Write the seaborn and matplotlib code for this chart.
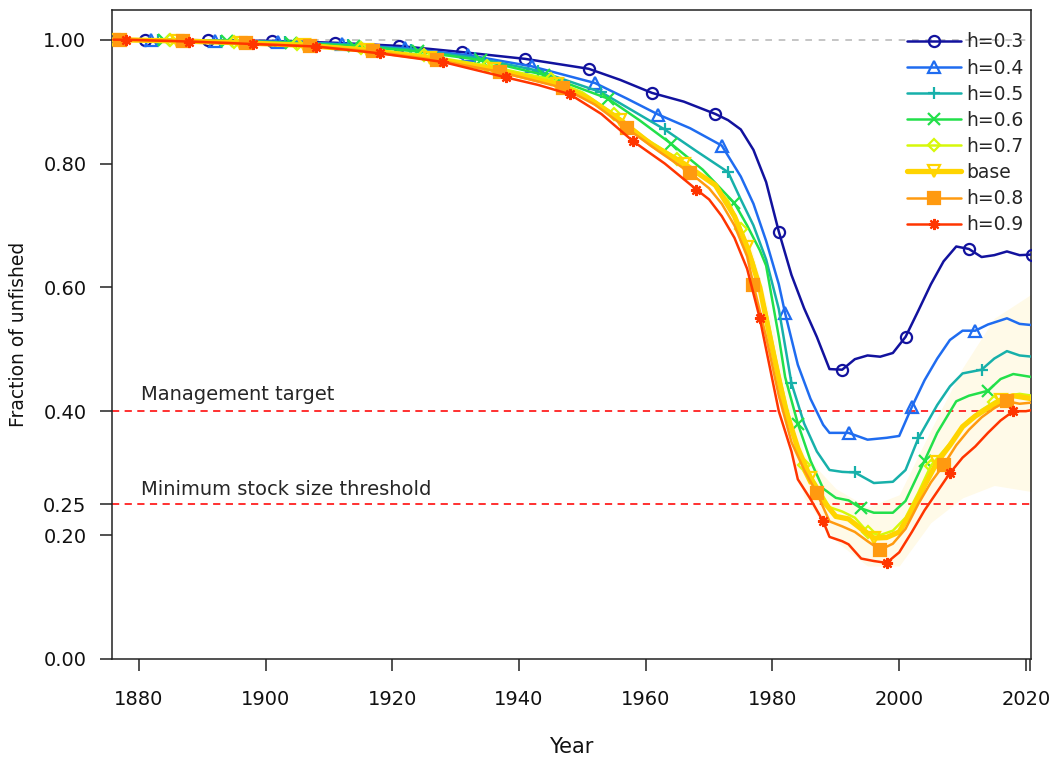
import matplotlib
matplotlib.use("Agg")
import matplotlib.pyplot as plt
import seaborn as sns

# (year, fraction of unfished) per model run
yrs_h03 = [1876, 1881, 1891, 1901, 1911, 1921, 1931, 1941, 1951, 1956, 1961, 1966, 1971, 1973, 1975, 1977,
           1979, 1981, 1983, 1985, 1987, 1989, 1991, 1993, 1995, 1997, 1999, 2001, 2003, 2005, 2007,
           2009, 2011, 2013, 2015, 2017, 2019, 2021]
val_h03 = [1.000, 1.000, 0.999, 0.998, 0.995, 0.990, 0.980, 0.969, 0.953, 0.935, 0.914, 0.900, 0.880, 0.870, 0.855, 0.822,
           0.770, 0.690, 0.620, 0.566, 0.520, 0.468, 0.467, 0.484, 0.490, 0.488, 0.494, 0.520, 0.562, 0.605, 0.642,
           0.666, 0.662, 0.649, 0.652, 0.658, 0.652, 0.653]

yrs_h04 = [1876, 1882, 1892, 1902, 1912, 1922, 1932, 1942, 1952, 1957, 1962, 1967, 1972, 1975, 1977, 1979,
           1981, 1982, 1984, 1986, 1988, 1989, 1992, 1995, 1998, 2000, 2002, 2004, 2006, 2008, 2010,
           2012, 2014, 2017, 2019, 2021]
val_h04 = [1.000, 1.000, 0.998, 0.997, 0.993, 0.986, 0.975, 0.957, 0.930, 0.905, 0.879, 0.857, 0.829, 0.779, 0.735, 0.675,
           0.605, 0.558, 0.475, 0.420, 0.378, 0.365, 0.365, 0.354, 0.357, 0.360, 0.407, 0.450, 0.485, 0.515, 0.530,
           0.530, 0.540, 0.550, 0.541, 0.539]

yrs_h05 = [1876, 1883, 1893, 1903, 1913, 1923, 1933, 1943, 1953, 1958, 1963, 1968, 1973, 1975, 1977, 1979,
           1981, 1983, 1985, 1987, 1989, 1991, 1993, 1996, 1999, 2001, 2003, 2006, 2008, 2010, 2013,
           2015, 2017, 2019, 2021]
val_h05 = [1.000, 1.000, 0.998, 0.996, 0.992, 0.984, 0.971, 0.950, 0.915, 0.885, 0.855, 0.820, 0.786, 0.742, 0.700, 0.645,
           0.565, 0.445, 0.380, 0.335, 0.305, 0.302, 0.301, 0.284, 0.286, 0.305, 0.356, 0.410, 0.440, 0.461, 0.467,
           0.485, 0.497, 0.490, 0.488]

yrs_h06 = [1876, 1884, 1894, 1904, 1914, 1924, 1934, 1944, 1954, 1959, 1964, 1969, 1974, 1976, 1978, 1979,
           1981, 1982, 1984, 1986, 1988, 1990, 1992, 1994, 1996, 1999, 2001, 2004, 2006, 2009, 2011,
           2014, 2016, 2018, 2021]
val_h06 = [1.000, 1.000, 0.998, 0.995, 0.990, 0.981, 0.967, 0.943, 0.905, 0.870, 0.832, 0.790, 0.736, 0.700, 0.660, 0.635,
           0.520, 0.455, 0.380, 0.320, 0.275, 0.260, 0.256, 0.243, 0.236, 0.236, 0.255, 0.320, 0.365, 0.416, 0.425,
           0.433, 0.452, 0.460, 0.455]

yrs_h07 = [1876, 1885, 1895, 1905, 1915, 1925, 1935, 1945, 1950, 1955, 1960, 1965, 1970, 1973, 1975, 1977,
           1979, 1981, 1983, 1985, 1987, 1989, 1991, 1993, 1995, 1997, 1999, 2001, 2003, 2005, 2007,
           2009, 2011, 2013, 2015, 2017, 2019, 2021]
val_h07 = [1.000, 0.999, 0.996, 0.993, 0.986, 0.975, 0.958, 0.936, 0.915, 0.880, 0.840, 0.808, 0.773, 0.740, 0.695, 0.640,
           0.560, 0.460, 0.375, 0.313, 0.280, 0.245, 0.238, 0.228, 0.205, 0.200, 0.207, 0.228, 0.268, 0.312, 0.336,
           0.360, 0.386, 0.402, 0.415, 0.425, 0.428, 0.425]

yrs_base = [1876, 1886, 1896, 1906, 1916, 1926, 1936, 1946, 1951, 1956, 1961, 1966, 1971, 1974, 1976, 1978,
            1980, 1982, 1984, 1986, 1988, 1990, 1992, 1994, 1996, 1998, 2000, 2002, 2004, 2006, 2008,
            2010, 2012, 2014, 2016, 2018, 2021]
val_base = [1.000, 0.998, 0.995, 0.991, 0.983, 0.970, 0.952, 0.928, 0.905, 0.870, 0.830, 0.800, 0.765, 0.715, 0.665, 0.600,
            0.500, 0.405, 0.340, 0.292, 0.255, 0.230, 0.226, 0.210, 0.195, 0.196, 0.205, 0.240, 0.280, 0.318, 0.345,
            0.375, 0.392, 0.405, 0.418, 0.425, 0.420]

yrs_h08 = [1876, 1877, 1887, 1897, 1907, 1917, 1927, 1937, 1947, 1952, 1957, 1962, 1967, 1970, 1972, 1974,
           1976, 1977, 1979, 1981, 1983, 1985, 1987, 1989, 1991, 1993, 1995, 1997, 1999, 2001, 2003,
           2005, 2007, 2009, 2011, 2013, 2015, 2017, 2019, 2021]
val_h08 = [1.000, 1.000, 0.998, 0.994, 0.990, 0.981, 0.967, 0.948, 0.922, 0.895, 0.857, 0.820, 0.785, 0.760, 0.735, 0.700,
           0.650, 0.604, 0.520, 0.425, 0.350, 0.305, 0.268, 0.222, 0.214, 0.205, 0.190, 0.176, 0.186, 0.210, 0.250,
           0.285, 0.313, 0.345, 0.370, 0.390, 0.405, 0.416, 0.412, 0.414]

yrs_h09 = [1876, 1878, 1888, 1898, 1908, 1918, 1928, 1938, 1943, 1948, 1953, 1958, 1963, 1968, 1970, 1972,
           1974, 1976, 1978, 1980, 1981, 1983, 1984, 1986, 1988, 1989, 1991, 1992, 1994, 1996, 1998,
           2000, 2002, 2004, 2006, 2008, 2010, 2012, 2014, 2016, 2018, 2020, 2021]
val_h09 = [1.000, 1.000, 0.997, 0.993, 0.989, 0.978, 0.964, 0.939, 0.927, 0.912, 0.880, 0.836, 0.800, 0.758, 0.742, 0.715,
           0.680, 0.630, 0.550, 0.450, 0.400, 0.335, 0.290, 0.258, 0.222, 0.197, 0.190, 0.185, 0.162, 0.158, 0.155,
           0.172, 0.205, 0.240, 0.270, 0.300, 0.325, 0.343, 0.365, 0.385, 0.400, 0.400, 0.402]

# faint uncertainty band around the base run
band_yrs = [1976, 1980, 1985, 1990, 1995, 2000, 2005, 2010, 2015, 2021]
band_lo = [0.640, 0.460, 0.260, 0.190, 0.150, 0.150, 0.220, 0.260, 0.280, 0.270]
band_hi = [0.690, 0.540, 0.330, 0.275, 0.245, 0.265, 0.370, 0.470, 0.550, 0.590]

labels = ["h=0.3", "h=0.4", "h=0.5", "h=0.6", "h=0.7", "base", "h=0.8", "h=0.9"]
colors = ["#12129e", "#1f6cf0", "#17b0aa", "#22e04a", "#d6f80a", "#ffd400", "#ff9a10", "#ff3500"]
markers = ["o", "^", "+", "x", "D", "v", "s", (8, 2, 0)]

series = [(yrs_h03, val_h03), (yrs_h04, val_h04), (yrs_h05, val_h05), (yrs_h06, val_h06),
          (yrs_h07, val_h07), (yrs_base, val_base), (yrs_h08, val_h08), (yrs_h09, val_h09)]

sns.set_style("ticks")
plt.rcParams['font.family'] = ['DejaVu Sans']

fig = plt.figure(figsize=(10.58, 7.67), dpi=100)
ax = fig.add_axes([0.106, 0.141, 0.8685, 0.846])

ax.fill_between(band_yrs, band_lo, band_hi, color="#ffe680", alpha=0.18, linewidth=0, zorder=1)

ax.axhline(1.0, color="#bbbbbb", ls=(0, (4, 4)), lw=1.2, zorder=1)
ax.axhline(0.4, color="#ff2020", ls=(0, (4, 3)), lw=1.3, zorder=1)
ax.axhline(0.25, color="#ff2020", ls=(0, (4, 3)), lw=1.3, zorder=1)

for i, (yrs, vals) in enumerate(series):
    # one marker every 10 years, shifted one year per run
    first = 1881 + i
    idx = [k for k, y in enumerate(yrs) if (y - first) % 10 == 0]
    filled = markers[i] == "s"
    lw = 3.8 if labels[i] == "base" else 1.8
    sns.lineplot(x=yrs, y=vals, ax=ax, color=colors[i], lw=lw, label=labels[i],
                 marker=markers[i], markevery=idx, markersize=8 if markers[i] != "D" else 6.5,
                 markeredgewidth=1.6, markeredgecolor=colors[i],
                 markerfacecolor=colors[i] if filled else "none", zorder=3 + i, sort=False)

ax.text(1880.3, 0.411, "Management target", fontsize=14, va="bottom", ha="left")
ax.text(1880.3, 0.258, "Minimum stock size threshold", fontsize=14, va="bottom", ha="left")

ax.set_xlim(1875.8, 2020.8)
ax.set_ylim(0, 1.048)
ax.set_xticks([1880, 1900, 1920, 1940, 1960, 1980, 2000, 2020])
ax.set_xticks([2020.6], minor=True)
ax.set_yticks([0.0, 0.2, 0.25, 0.4, 0.6, 0.8, 1.0])
ax.set_yticklabels(["0.00", "0.20", "0.25", "0.40", "0.60", "0.80", "1.00"])
ax.tick_params(axis="both", which="both", direction="out", length=8.5, width=1.1, labelsize=14,
               color="#222222", labelcolor="#111111")
ax.tick_params(axis="x", pad=14)
ax.tick_params(axis="y", pad=10)
ax.set_xlabel("Year", fontsize=15, labelpad=20, color="#111111")
ax.set_ylabel("Fraction of unfished", fontsize=13.5, labelpad=11, color="#111111")
for s in ax.spines.values():
    s.set_color("#222222")
    s.set_linewidth(1.1)

ax.legend(loc="upper right", frameon=False, fontsize=13.5, handlelength=2.85, handletextpad=0.3,
          labelspacing=0.38, borderpad=0.2, borderaxespad=0.2, bbox_to_anchor=(1.0, 0.977))

fig.savefig("out.png", dpi=100)
